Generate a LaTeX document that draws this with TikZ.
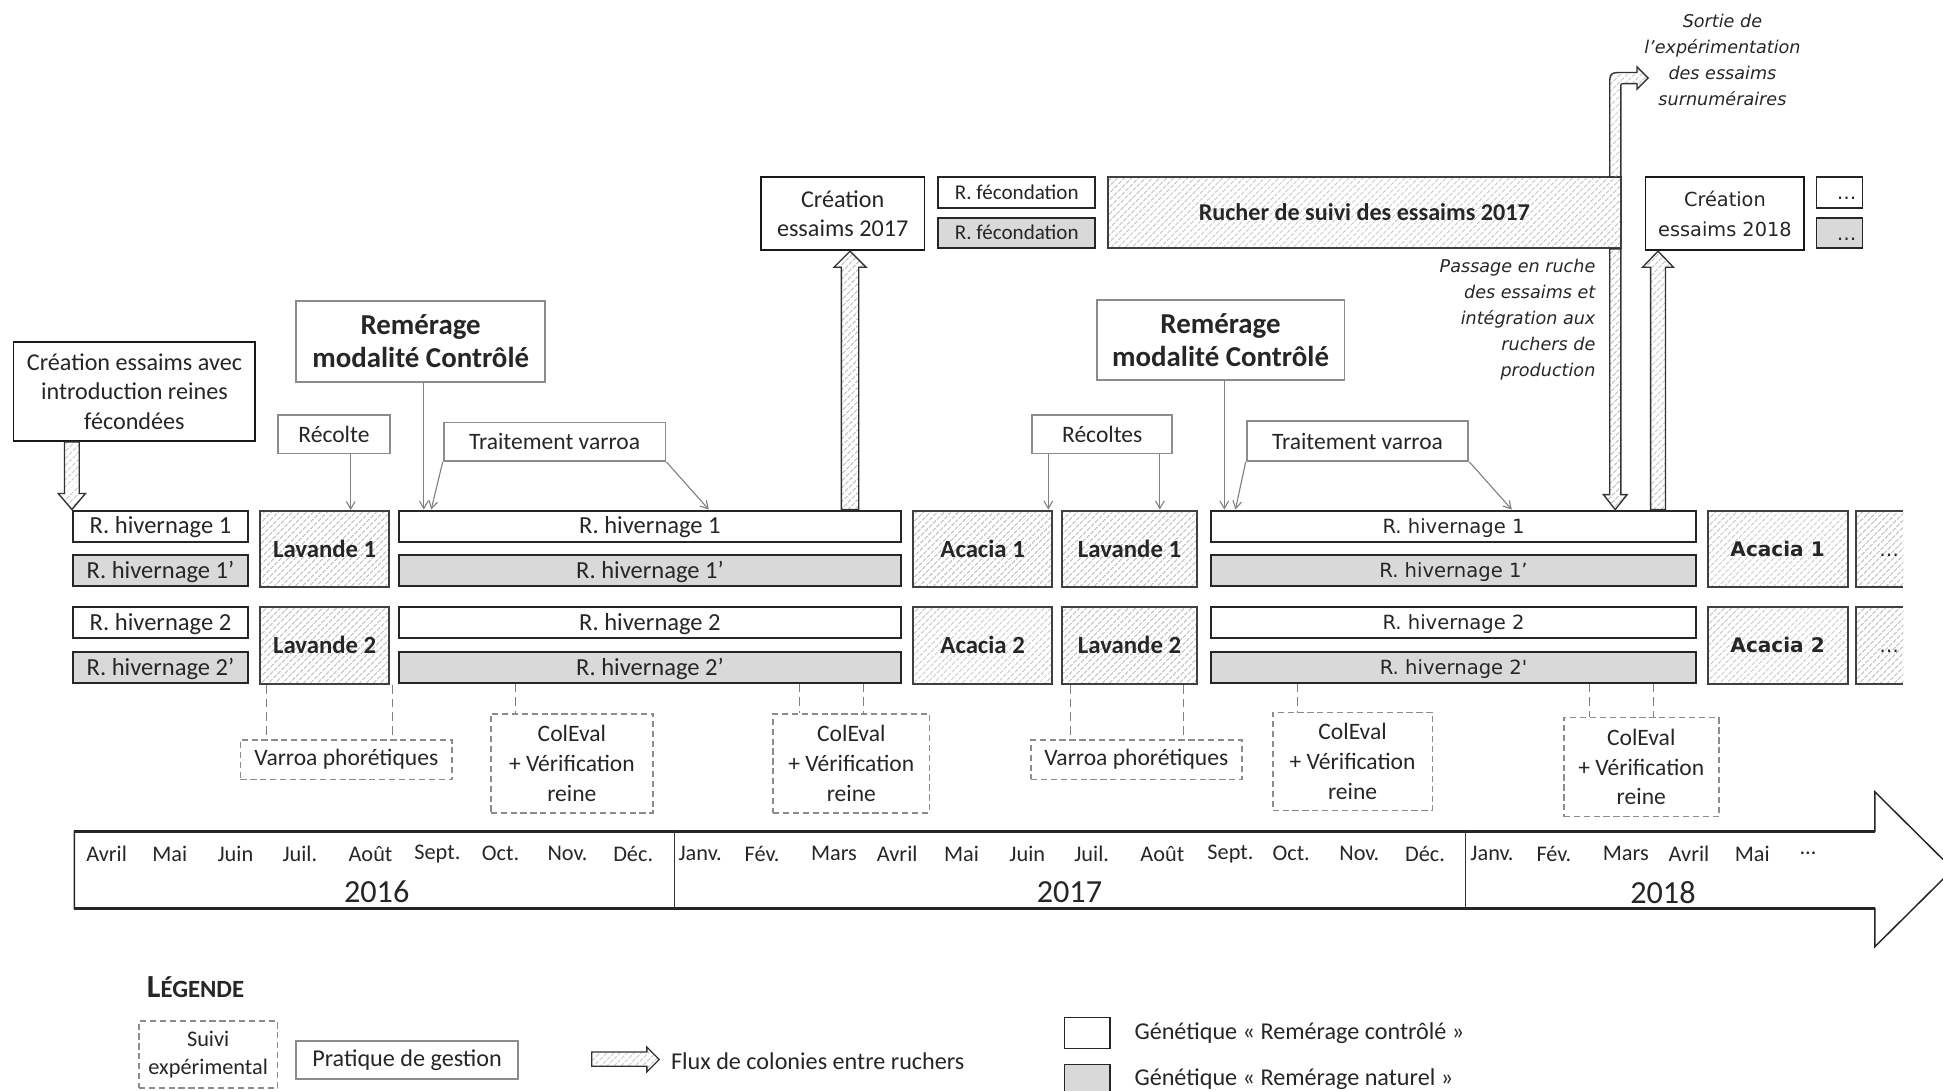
\documentclass[tikz,border=0pt]{standalone}
\usepackage{fontspec}
\setmainfont{Carlito}
\newfontfamily\vfont{DejaVu Sans}
\usetikzlibrary{patterns.meta,arrows.meta,calc}
\newcommand\fsz[2]{\fontsize{#1}{#2}\selectfont}
\newcommand\bx[7]{%
  \pgfmathsetmacro\bxw{#5-#3}\pgfmathsetmacro\bxh{#6-#4}%
  \pgfmathsetmacro\bxcx{(#3+#5)/2}\pgfmathsetmacro\bxcy{(#4+#6)/2}%
  \node[#2, minimum width=\bxw pt, minimum height=\bxh pt, inner sep=0pt, anchor=center] (#1) at (\bxcx,\bxcy) {#7};}
\newcommand\vflux[5]{%
  \path[flux] let \p1=(#1), \p2=(#2), \n1={sign(\y2-\y1)} in
  ({\x1-#3},\y1) -- ({\x1+#3},\y1) -- ({\x1+#3},{\y2-(\n1)*#5}) -- ({\x1+#4},{\y2-(\n1)*#5}) -- (\x1,\y2) -- ({\x1-#4},{\y2-(\n1)*#5}) -- ({\x1-#3},{\y2-(\n1)*#5}) -- cycle;}
\tikzset{
 every node/.style={text=black!85},
 bar/.style={draw=black!85, line width=1.6pt, fill=white, font=\fsz{19.8}{23}, text height=12.8pt, text depth=0pt},
 gbar/.style={bar, fill=gray!30},
 hatch/.style={draw=black!75, line width=1.6pt, pattern={Lines[angle=45,distance=4pt,line width=0.8pt]}, pattern color=gray!60, font=\bfseries\fsz{20}{24}, text height=13pt, text depth=0pt},
 ann/.style={draw=gray!90, line width=1.5pt, font=\fsz{19}{24}, align=center},
 remb/.style={ann, font=\bfseries\fsz{23.3}{27}},
 crea/.style={draw=black!90, line width=1.4pt, font=\fsz{19.5}{24}, align=center},
 suivi/.style={draw=gray!90, line width=1.4pt, dash pattern=on 5pt off 3pt, font=\fsz{19}{24}, align=center},
 flux/.style={draw=black!80, line width=1.1pt, pattern={Lines[angle=45,distance=4pt,line width=0.8pt]}, pattern color=gray!60},
 pointer/.style={draw=gray, line width=0.9pt, -{Straight Barb[length=6pt,width=7pt]}},
 dline/.style={draw=gray, line width=0.9pt, dash pattern=on 7pt off 4pt},
 month/.style={font=\fsz{18}{20}},
 year/.style={font=\fsz{26}{28}},
 vf/.style={font=\vfont\fsz{15.8}{18}, text height=11.5pt},
 vfb/.style={font=\vfont\bfseries\fsz{16.2}{19}, text height=11.8pt},
 vfc/.style={font=\vfont\fsz{15.6}{24}},
 fec/.style={font=\fsz{17}{20}, text height=11pt},
 note/.style={font=\vfont\itshape\fsz{14.2}{21}},
}
\begin{document}
\begin{tikzpicture}[x=1pt,y=-1pt]
\useasboundingbox (0,0) rectangle (1568,880);

% ---- first creation box
\bx{crea0}{crea}{11}{276}{206}{356}{Création essaims avec\\introduction reines\\fécondées}

% ---- rows
\bx{rh1a}{bar}{59}{412}{200}{437}{R. hivernage 1}
\bx{rh1pa}{gbar}{59}{448}{200}{473}{R. hivernage 1’}
\bx{rh2a}{bar}{59}{490}{200}{515}{R. hivernage 2}
\bx{rh2pa}{gbar}{59}{526}{200}{551}{R. hivernage 2’}
\bx{lav1a}{hatch}{210}{412}{314}{474}{Lavande 1}
\bx{lav2a}{hatch}{210}{490}{314}{552}{Lavande 2}
\bx{rh1b}{bar}{322}{412}{727}{437}{R. hivernage 1}
\bx{rh1pb}{gbar}{322}{448}{727}{473}{R. hivernage 1’}
\bx{rh2b}{bar}{322}{490}{727}{515}{R. hivernage 2}
\bx{rh2pb}{gbar}{322}{526}{727}{551}{R. hivernage 2’}
\bx{aca1a}{hatch}{737}{412}{849}{474}{Acacia 1}
\bx{aca2a}{hatch}{737}{490}{849}{552}{Acacia 2}
\bx{lav1b}{hatch}{857}{412}{966}{474}{Lavande 1}
\bx{lav2b}{hatch}{857}{490}{966}{552}{Lavande 2}
\bx{rh1c}{bar,vf}{977}{412}{1369}{437}{R. hivernage 1}
\bx{rh1pc}{gbar,vf}{977}{448}{1369}{473}{R. hivernage 1’}
\bx{rh2c}{bar,vf}{977}{490}{1369}{515}{R. hivernage 2}
\bx{rh2pc}{gbar,vf}{977}{526}{1369}{551}{R. hivernage 2'}
\bx{aca1b}{hatch,vfb}{1378}{412}{1491}{474}{Acacia 1}
\bx{aca2b}{hatch,vfb}{1378}{490}{1491}{552}{Acacia 2}
% partial boxes at right edge
\path[pattern={Lines[angle=45,distance=4pt,line width=0.8pt]}, pattern color=gray!60] (1498,412) rectangle (1536,474) (1498,490) rectangle (1536,552);
\draw[draw=black!75, line width=1.6pt] (1536,412) -- (1498,412) -- (1498,474) -- (1536,474) (1536,490) -- (1498,490) -- (1498,552) -- (1536,552);
\node[vf, anchor=east] (dotsA) at (1536,443) {…};
\node[vf, anchor=east] (dotsB) at (1536,521) {…};

% ---- top row
\bx{crea17}{crea}{614}{143}{746}{202}{Création\\essaims 2017}
\bx{fec1}{bar,fec}{757}{143}{884}{168}{R. fécondation}
\bx{fec2}{gbar,fec}{757}{176}{884}{200}{R. fécondation}
\bx{rucher}{hatch,font=\bfseries\fsz{19.5}{24}}{894}{143}{1308}{200}{Rucher de suivi des essaims 2017}
\bx{crea18}{crea,vfc}{1328}{143}{1456}{202}{Création\\essaims 2018}
\bx{dt1}{bar,line width=1.3pt}{1466}{143}{1503}{168}{}
\bx{dt2}{gbar,line width=1.3pt}{1466}{176}{1503}{200}{}
\node[vf, anchor=east] (dt1t) at ([xshift=-2pt]dt1.east) {…};
\node[vf, anchor=east] (dt2t) at ([xshift=-2pt]dt2.east) {…};

% ---- notes
\node[note, align=center] (sortie) at (1390,48) {Sortie de\\l’expérimentation\\des essaims\\surnuméraires};
\node[note, align=right, anchor=east] (passage) at (1291,258) {Passage en ruche\\des essaims et\\intégration aux\\ruchers de\\production};

% ---- management practice boxes
\bx{rem1}{remb}{239}{243}{440}{308}{Remérage\\modalité Contrôlé}
\bx{rec1}{ann}{224}{335}{315}{366}{Récolte}
\bx{tv1}{ann}{358}{341}{537}{372}{Traitement varroa}
\bx{rem2}{remb}{885}{242}{1085}{307}{Remérage\\modalité Contrôlé}
\bx{rec2}{ann}{833}{335}{946}{366}{Récoltes}
\bx{tv2}{ann}{1006}{340}{1185}{372}{Traitement varroa}

% pointers
\coordinate (p1) at (342,0);
\coordinate (p2) at (283,0);
\coordinate (p3) at (348,0);
\coordinate (p4) at (572,0);
\coordinate (p5) at (988,0);
\coordinate (p6) at (846,0);
\coordinate (p7) at (936,0);
\coordinate (p8) at (997,0);
\coordinate (p9) at (1220,0);
\draw[pointer] (p1 |- rem1.south) -- (p1 |- rh1b.north);
\draw[pointer] (p2 |- rec1.south) -- (p2 |- lav1a.north);
\draw[pointer] (tv1.south west) -- (p3 |- rh1b.north);
\draw[pointer] (tv1.south east) -- (p4 |- rh1b.north);
\draw[pointer] (p5 |- rem2.south) -- (p5 |- rh1c.north);
\draw[pointer] (p6 |- rec2.south) -- (p6 |- aca1a.north);
\draw[pointer] (p7 |- rec2.south) -- (p7 |- lav1b.north);
\draw[pointer] (tv2.south west) -- (p8 |- rh1c.north);
\draw[pointer] (tv2.south east) -- (p9 |- rh1c.north);

% ---- experimental follow-up
\bx{vp1}{suivi}{194}{597}{365}{629}{Varroa phorétiques}
\bx{ce1}{suivi}{396}{576}{527}{656}{ColEval\\+ Vérification\\reine}
\bx{ce2}{suivi}{624}{576}{750}{656}{ColEval\\+ Vérification\\reine}
\bx{vp2}{suivi}{832}{597}{1002}{629}{Varroa phorétiques}
\bx{ce3}{suivi}{1027}{575}{1156}{654}{ColEval\\+ Vérification\\reine}
\bx{ce4}{suivi}{1262}{579}{1387}{659}{ColEval\\+ Vérification\\reine}
\coordinate (d1) at (215,0);
\coordinate (d2) at (317,0);
\coordinate (d3) at (416,0);
\coordinate (d4) at (645,0);
\coordinate (d5) at (697,0);
\coordinate (d6) at (864,0);
\coordinate (d7) at (955,0);
\coordinate (d8) at (1047,0);
\coordinate (d9) at (1283,0);
\coordinate (d10) at (1334,0);
\draw[dline] (d1 |- lav2a.south) -- (d1 |- vp1.north);
\draw[dline] (d2 |- lav2a.south) -- (d2 |- vp1.north);
\draw[dline] (d3 |- rh2pb.south) -- (d3 |- ce1.north);
\draw[dline] (d4 |- rh2pb.south) -- (d4 |- ce2.north);
\draw[dline] (d5 |- rh2pb.south) -- (d5 |- ce2.north);
\draw[dline] (d6 |- lav2b.south) -- (d6 |- vp2.north);
\draw[dline] (d7 |- lav2b.south) -- (d7 |- vp2.north);
\draw[dline] (d8 |- rh2pc.south) -- (d8 |- ce3.north);
\draw[dline] (d9 |- rh2pc.south) -- (d9 |- ce4.north);
\draw[dline] (d10 |- rh2pc.south) -- (d10 |- ce4.north);

% ---- colony flows
\coordinate (f1) at (58,0);
\coordinate (f2) at (686,0);
\coordinate (f3) at (1338,0);
\coordinate (f4) at (1303.5,0);
\vflux{f1 |- crea0.south}{f1 |- rh1a.north}{6pt}{11pt}{13pt}
\vflux{f2 |- rh1b.north}{f2 |- crea17.south}{7pt}{13pt}{13pt}
\vflux{f3 |- rh1c.north}{f3 |- crea18.south}{6pt}{12.5pt}{13pt}
\vflux{f4 |- rucher.south}{f4 |- rh1c.north}{4.5pt}{9.5pt}{12pt}
\path[flux] (1299,143) -- (1299,70) .. controls (1299,58.5) .. (1310.5,58.5) -- (1321,58.5) -- (1321,54) -- (1330,63) -- (1321,72) -- (1321,67.5) -- (1311,67.5) .. controls (1308,67.5) .. (1308,70.5) -- (1308,143) -- cycle;

% ---- timeline
\draw[line width=1.2pt, black!85] (60,671) -- (1513,671) -- (1513,639) -- (1576,701.5) -- (1513,764) -- (1513,733) -- (60,733) -- cycle;
\draw[line width=2.6pt, black!85] (60,671) -- (1513,671) (60,733) -- (1513,733);
\draw[line width=0.8pt, black!80] (544,671) -- (544,733) (1183,671) -- (1183,733);
\foreach \m/\x in {Avril/86, Mai/137, Juin/190, Juil./242, Août/299, Sept./353, Oct./404, Nov./458, Déc./511,
  Janv./565, Fév./615, Mars/673, Avril/724, Mai/776, Juin/829, Juil./881, Août/938, Sept./993, Oct./1042, Nov./1097, Déc./1150,
  Janv./1204, Fév./1254, Mars/1312, Avril/1363, Mai/1414, …/1459}
  \node[month] (m\x) at (\x,689) {\m};
\node[year] (y16) at (304,720) {2016};
\node[year] (y17) at (863,720) {2017};
\node[year] (y18) at (1342,720) {2018};

% ---- legend
\node[anchor=west, font=\bfseries] (leg) at (115,797) {\fsz{26}{28}L\fsz{20}{22}ÉGENDE};
\bx{lg1}{suivi,font=\fsz{18}{23}}{112}{824}{224}{878}{Suivi\\expérimental}
\bx{lg2}{ann,font=\fsz{19.5}{24}}{239}{840}{418}{871}{Pratique de gestion}
\path[flux] (477.5,849) -- (522,849) -- (522,845) -- (532,855) -- (522,865) -- (522,860.5) -- (477.5,860.5) -- cycle;
\node[anchor=west, font=\fsz{19.5}{22}] (lgf) at (538,856) {Flux de colonies entre ruchers};
\bx{lg3}{bar,line width=1.3pt}{859}{821}{896}{846}{}
\bx{lg4}{gbar,line width=1.3pt}{859}{859}{896}{886}{}
\node[anchor=west, font=\fsz{19.5}{22}] (lgc) at (912,834) {Génétique « Remérage contrôlé »};
\node[anchor=west, font=\fsz{19.5}{22}] (lgn) at (912,871) {Génétique « Remérage naturel »};
\end{tikzpicture}
\end{document}
